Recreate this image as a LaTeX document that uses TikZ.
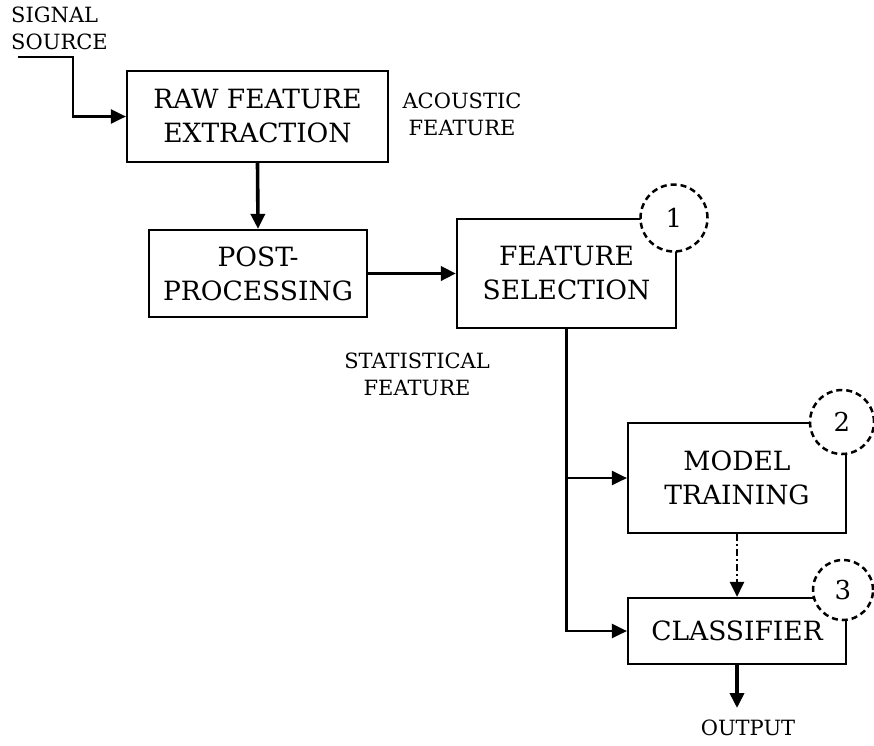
\documentclass[tikz,border=0pt]{standalone}
\usepackage{fontspec}
\setmainfont{DejaVu Serif}
\usetikzlibrary{arrows.meta}
\begin{document}
\begin{tikzpicture}[x=1pt,y=-1pt,
 box/.style={draw, line width=2.2pt, inner sep=0pt, align=center, font=\fontsize{26.5}{34}\selectfont},
 lbl/.style={inner sep=0pt, font=\fontsize{21}{27}\selectfont},
 num/.style={circle, draw, dash pattern=on 6pt off 4pt, line width=2.5pt, fill=white, inner sep=0pt, font=\fontsize{26}{30}\selectfont},
 arr/.style={-{Triangle[length=15pt,width=14pt]}},
 thinline/.style={line width=2.2pt},
 thickline/.style={line width=3.6pt}]
\useasboundingbox (0,0) rectangle (874,745);
% boxes
\node[box, minimum width=261pt, minimum height=91pt] (raw) at (257.5,116.5) {RAW FEATURE\\EXTRACTION};
\node[box, minimum width=218pt, minimum height=87pt] (post) at (258,273.5) {POST-\\PROCESSING};
\node[box, minimum width=219pt, minimum height=109pt] (fs) at (566.5,273.5) {FEATURE\\SELECTION};
\node[box, minimum width=218pt, minimum height=110pt] (mt) at (737,478) {MODEL\\TRAINING};
\node[box, minimum width=218pt, minimum height=66pt] (cls) at (737,631) {CLASSIFIER};
% labels
\node[lbl, align=left, anchor=west] (sigtxt) at (11,28) {SIGNAL\\SOURCE};
\node[lbl, align=center] (acou) at (462,114) {ACOUSTIC\\FEATURE};
\node[lbl, align=center] (stat) at (417,374.5) {STATISTICAL\\FEATURE};
\node[lbl] (out) at (748,727.5) {OUTPUT};
% connectors
\coordinate (sig) at (18,57);
\draw[thinline, arr] (sig) -- ++(55,0) |- (raw.west);
\draw[thickline, arr] (raw.south) -- (post.north);
\draw[thickline, arr] (post.east) -- (fs.west);
\coordinate (br) at (fs.south |- mt.west);
\draw[thinline, arr] (fs.south) |- (cls.west);
\draw[thinline, arr] (br) -- (mt.west);
\draw[line width=2.6pt, dash pattern=on 7pt off 3pt on 2pt off 3pt, arr] (mt.south) -- (cls.north);
\coordinate (outend) at (737,708);
\draw[thickline, arr] (cls.south) -- (outend);
% numbered circles
\node[num, minimum size=67pt] (c1) at (674,218) {1};
\node[num, minimum size=64pt] (c2) at (842,422) {2};
\node[num, minimum size=60pt] (c3) at (843,590) {3};
\end{tikzpicture}
\end{document}
